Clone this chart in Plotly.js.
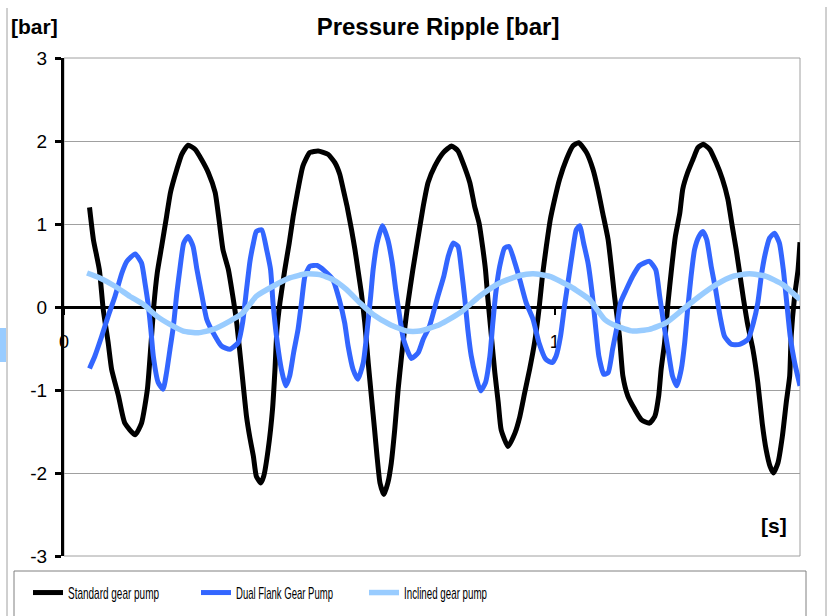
<!DOCTYPE html>
<html>
<head>
<meta charset="utf-8">
<script src="https://cdn.plot.ly/plotly-3.0.1.min.js"></script>
<style>html,body{margin:0;padding:0;background:#fff;}#chart{width:832px;height:616px;}</style>
</head>
<body>
<div id="chart"></div>
<script>
// Standard gear pump
const stdT = [0.052,0.060,0.072,0.080,0.090,0.097,0.111,0.124,0.145,0.158,0.170,0.177,0.183,0.190,0.199,0.209,0.217,0.230,0.240,0.253,0.267,0.280,0.294,0.308,0.316,0.324,0.335,0.344,0.352,0.362,0.372,0.379,0.386,0.392,0.401,0.407,0.416,0.425,0.430,0.434,0.440,0.450,0.459,0.467,0.477,0.487,0.501,0.518,0.538,0.552,0.562,0.569,0.577,0.586,0.593,0.599,0.606,0.613,0.620,0.627,0.633,0.638,0.644,0.652,0.660,0.667,0.674,0.681,0.688,0.695,0.701,0.711,0.722,0.732,0.742,0.756,0.773,0.790,0.803,0.813,0.827,0.837,0.846,0.853,0.859,0.864,0.871,0.878,0.885,0.891,0.905,0.919,0.929,0.939,0.949,0.959,0.968,0.975,0.983,0.991,1.000,1.010,1.024,1.037,1.049,1.065,1.078,1.088,1.098,1.109,1.122,1.132,1.139,1.149,1.163,1.177,1.193,1.204,1.212,1.217,1.224,1.231,1.238,1.246,1.255,1.261,1.271,1.282,1.292,1.303,1.316,1.329,1.342,1.353,1.362,1.370,1.377,1.385,1.394,1.404,1.414,1.423,1.431,1.439,1.446,1.455,1.464,1.472,1.479,1.482,1.489,1.496,1.500];
const stdV = [1.20,0.81,0.45,-0.03,-0.43,-0.75,-1.07,-1.40,-1.54,-1.40,-0.99,-0.47,0.01,0.41,0.73,1.09,1.38,1.66,1.84,1.95,1.90,1.78,1.62,1.38,1.05,0.69,0.45,0.13,-0.19,-0.75,-1.32,-1.58,-1.80,-2.04,-2.12,-2.04,-1.72,-1.23,-0.75,-0.27,0.05,0.45,0.77,1.09,1.42,1.70,1.86,1.88,1.84,1.74,1.60,1.42,1.21,0.93,0.69,0.45,0.17,-0.19,-0.67,-1.11,-1.48,-1.80,-2.12,-2.26,-2.12,-1.88,-1.48,-0.99,-0.59,-0.23,0.05,0.45,0.85,1.21,1.50,1.70,1.86,1.94,1.88,1.74,1.50,1.21,1.01,0.73,0.45,0.09,-0.35,-0.79,-1.15,-1.48,-1.68,-1.52,-1.32,-1.03,-0.75,-0.43,-0.03,0.37,0.73,1.05,1.30,1.54,1.78,1.94,1.98,1.86,1.66,1.42,1.13,0.81,0.13,-0.35,-0.83,-1.07,-1.23,-1.36,-1.40,-1.32,-1.07,-0.75,-0.43,0.05,0.45,0.85,1.13,1.42,1.62,1.78,1.92,1.96,1.90,1.74,1.54,1.30,0.97,0.69,0.41,0.09,-0.23,-0.51,-0.91,-1.40,-1.72,-1.92,-2.00,-1.88,-1.56,-1.15,-0.83,-0.35,0.13,0.45,0.78];

// Dual Flank Gear Pump
const dualT = [0.052,0.063,0.077,0.090,0.104,0.118,0.128,0.145,0.158,0.165,0.172,0.177,0.182,0.192,0.202,0.209,0.216,0.223,0.230,0.236,0.244,0.253,0.263,0.271,0.280,0.291,0.304,0.321,0.338,0.355,0.364,0.372,0.379,0.386,0.392,0.403,0.413,0.421,0.426,0.433,0.443,0.452,0.460,0.468,0.477,0.484,0.491,0.501,0.516,0.532,0.548,0.561,0.572,0.579,0.589,0.599,0.610,0.618,0.625,0.630,0.638,0.649,0.660,0.669,0.676,0.684,0.692,0.708,0.722,0.732,0.745,0.762,0.774,0.783,0.793,0.803,0.810,0.817,0.823,0.830,0.839,0.849,0.859,0.868,0.874,0.880,0.888,0.898,0.907,0.919,0.929,0.942,0.956,0.968,0.982,0.995,1.003,1.012,1.020,1.029,1.037,1.044,1.051,1.059,1.068,1.077,1.084,1.090,1.100,1.109,1.118,1.126,1.134,1.146,1.159,1.173,1.193,1.206,1.214,1.222,1.231,1.240,1.249,1.258,1.265,1.271,1.278,1.285,1.294,1.302,1.310,1.319,1.328,1.337,1.346,1.360,1.377,1.394,1.405,1.414,1.421,1.428,1.438,1.448,1.458,1.466,1.473,1.480,1.489,1.500];
const dualV = [-0.74,-0.59,-0.35,-0.11,0.13,0.41,0.55,0.64,0.53,0.29,0.01,-0.27,-0.59,-0.91,-0.99,-0.79,-0.51,-0.23,0.17,0.45,0.77,0.85,0.73,0.45,0.17,-0.15,-0.31,-0.47,-0.51,-0.43,-0.19,0.21,0.55,0.77,0.91,0.93,0.69,0.45,0.05,-0.35,-0.75,-0.95,-0.83,-0.55,-0.27,0.05,0.37,0.49,0.50,0.43,0.33,0.09,-0.19,-0.47,-0.75,-0.87,-0.67,-0.27,0.13,0.45,0.77,0.98,0.81,0.53,0.21,-0.11,-0.39,-0.62,-0.55,-0.39,-0.23,0.13,0.37,0.61,0.77,0.73,0.45,0.09,-0.27,-0.59,-0.83,-1.01,-0.91,-0.59,-0.19,0.17,0.49,0.71,0.73,0.53,0.33,0.05,-0.15,-0.43,-0.63,-0.67,-0.59,-0.35,0.01,0.37,0.69,0.93,0.98,0.77,0.53,0.13,-0.27,-0.59,-0.81,-0.79,-0.51,-0.27,0.05,0.21,0.37,0.50,0.55,0.45,0.13,-0.19,-0.51,-0.83,-0.95,-0.75,-0.43,-0.03,0.37,0.69,0.85,0.91,0.81,0.49,0.21,-0.11,-0.35,-0.45,-0.45,-0.39,-0.19,0.05,0.37,0.61,0.83,0.89,0.77,0.45,0.05,-0.35,-0.67,-0.95];

// Inclined gear pump
const inclT = [0.047,0.073,0.104,0.134,0.162,0.189,0.216,0.243,0.274,0.304,0.338,0.365,0.392,0.426,0.460,0.494,0.521,0.548,0.576,0.603,0.630,0.664,0.698,0.725,0.766,0.807,0.847,0.888,0.929,0.956,0.990,1.031,1.071,1.102,1.126,1.159,1.193,1.227,1.261,1.295,1.329,1.363,1.397,1.431,1.465,1.500];
const inclV = [0.41,0.35,0.25,0.13,0.03,-0.11,-0.21,-0.29,-0.31,-0.27,-0.17,-0.07,0.13,0.25,0.35,0.40,0.39,0.33,0.21,0.05,-0.09,-0.21,-0.29,-0.29,-0.21,-0.07,0.13,0.29,0.38,0.40,0.37,0.25,0.09,-0.15,-0.23,-0.29,-0.27,-0.19,-0.03,0.13,0.27,0.37,0.40,0.37,0.27,0.09];

const seriesNames = ['Standard gear pump', 'Dual Flank Gear Pump', 'Inclined gear pump'];
const yTickVals = [-3, -2, -1, 0, 1, 2, 3];
const yTickText = ['-3', '-2', '-1', '0', '1', '2', '3'];
const xTickVals = [0, 1];
const xTickText = ['0', '1'];

const W = 832, H = 616, ML = 64, MR = 32, MT = 58, MB = 60;
const PW = W - ML - MR, PH = H - MT - MB;
const px = v => (v - ML) / PW;
const py = v => (H - MB - v) / PH;

const traces = [
  {x: stdT, y: stdV, name: seriesNames[0], mode: 'lines', line: {color: '#000000', width: 5, shape: 'spline', smoothing: 0.5}},
  {x: dualT, y: dualV, name: seriesNames[1], mode: 'lines', line: {color: '#3366ff', width: 5, shape: 'spline', smoothing: 0.5}},
  {x: inclT, y: inclV, name: seriesNames[2], mode: 'lines', line: {color: '#99ccff', width: 5.5, shape: 'spline', smoothing: 0.5}}
];

const grey = '#a0a0a0';
const layout = {
  width: W, height: H,
  margin: {l: ML, r: MR, t: MT, b: MB, pad: 0, autoexpand: false},
  paper_bgcolor: '#ffffff', plot_bgcolor: '#ffffff',
  font: {family: '"Liberation Sans", Arial, sans-serif', color: '#000000'},
  title: {text: '<b>Pressure Ripple [bar]</b>', font: {size: 24, family: '"Liberation Sans", Arial, sans-serif', color: '#000'},
          xref: 'paper', x: px(438), xanchor: 'center', yref: 'container', y: 1 - 27 / H, yanchor: 'middle'},
  showlegend: true,
  legend: {orientation: 'h', x: px(28), xanchor: 'left', y: py(593), yanchor: 'middle',
           bgcolor: 'rgba(0,0,0,0)', borderwidth: 0, itemwidth: 30,
           entrywidth: 123, entrywidthmode: 'pixels',
           font: {size: 17, family: '"Liberation Sans", Arial, sans-serif', color: '#000'}},
  xaxis: {range: [0, 1.5], anchor: 'free', position: 0.5, showgrid: false, zeroline: false,
          showline: true, linecolor: '#000', linewidth: 3, layer: 'below traces',
          tickmode: 'array', tickvals: xTickVals, ticktext: xTickText,
          ticks: 'outside', ticklen: 6, tickwidth: 2, tickcolor: '#000', ticklabelstandoff: 11,
          tickfont: {size: 18, color: '#000'}, fixedrange: true},
  yaxis: {range: [-3, 3], showgrid: true, gridcolor: grey, gridwidth: 1, zeroline: false,
          showline: true, linecolor: '#000', linewidth: 3, layer: 'below traces',
          tickmode: 'array', tickvals: yTickVals, ticktext: yTickText,
          ticks: 'outside', ticklen: 6, tickwidth: 3, tickcolor: '#000', ticklabelstandoff: 4,
          tickfont: {size: 19, color: '#000'}, fixedrange: true},
  shapes: [
    {type: 'rect', xref: 'paper', yref: 'paper', x0: 0, x1: 1, y0: 0, y1: 1, line: {color: grey, width: 1}, layer: 'below'},
    {type: 'line', xref: 'paper', yref: 'paper', x0: px(7), x1: px(7), y0: py(8), y1: py(616), line: {color: grey, width: 1}},
    {type: 'line', xref: 'paper', yref: 'paper', x0: px(826), x1: px(826), y0: py(7), y1: py(616), line: {color: grey, width: 1}},
    {type: 'rect', xref: 'paper', yref: 'paper', x0: px(14), x1: px(806), y0: py(571), y1: py(640), line: {color: '#808080', width: 1}},
    {type: 'rect', xref: 'paper', yref: 'paper', x0: px(0), x1: px(6), y0: py(328), y1: py(362), fillcolor: '#99ccff', line: {width: 0}}
  ],
  annotations: [
    {text: '<b>[bar]</b>', xref: 'paper', yref: 'paper', x: px(9), xanchor: 'left', y: py(27), yanchor: 'middle',
     showarrow: false, font: {size: 21, color: '#000'}},
    {text: '<b>[s]</b>', xref: 'paper', yref: 'paper', x: px(789), xanchor: 'right', y: py(525), yanchor: 'middle',
     showarrow: false, font: {size: 21, color: '#000'}}
  ]
};

// widths of the legend labels in the reference (narrow typeface)
const legendTextWidths = [91, 97, 83];

Plotly.newPlot('chart', traces, layout, {displayModeBar: false, staticPlot: true}).then(gd => {
  gd.querySelectorAll('.legend .traces').forEach((g, i) => {
    const t = g.querySelector('text.legendtext');
    if (t && legendTextWidths[i]) {
      t.setAttribute('textLength', legendTextWidths[i]);
      t.setAttribute('lengthAdjust', 'spacingAndGlyphs');
    }
  });
});
</script>
</body>
</html>
